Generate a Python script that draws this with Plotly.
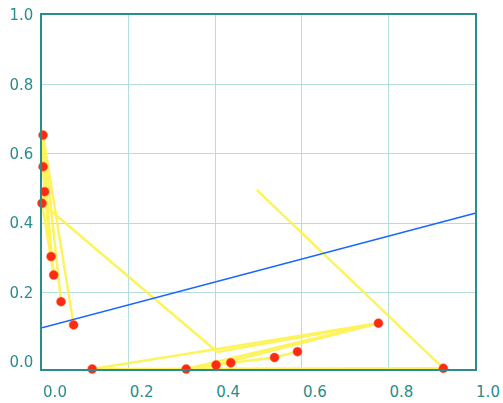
import plotly.graph_objects as go

# Sample points
pts_x = [0.0025, 0.0025, 0.006, 0.0, 0.021, 0.027, 0.044, 0.073,
         0.116, 0.333, 0.402, 0.436, 0.537, 0.590, 0.777, 0.927]
pts_y = [0.654, 0.563, 0.491, 0.4575, 0.304, 0.251, 0.174, 0.107,
         -0.02, -0.02, -0.0085, -0.002, 0.013, 0.030, 0.112, -0.018]

# Extra trail vertices that are not sample points
free_x = [0.405, 0.496]
free_y = [0.029, 0.496]

# Trail segments as (from, to) vertex indices (points first, then free vertices)
trail_edges = [(0, 1), (1, 2), (2, 3), (0, 4), (1, 5), (2, 4), (3, 5),
               (0, 6), (0, 7), (3, 16),
               (8, 15), (8, 14), (9, 14), (10, 14), (16, 14),
               (9, 10), (10, 11), (11, 12), (12, 13),
               (17, 15)]

# Fitted line y = intercept + slope * x
fit_intercept = 0.099
fit_slope = 0.33
fit_x = [0.0, 1.0]

tick_vals = [0.0, 0.2, 0.4, 0.6, 0.8, 1.0]

vx = pts_x + free_x
vy = pts_y + free_y
tx, ty = [], []
for a, b in trail_edges:
    tx += [vx[a], vx[b], None]
    ty += [vy[a], vy[b], None]

fig = go.Figure()
fig.add_trace(go.Scatter(x=tx, y=ty, mode="lines",
                         line=dict(color="#fdf24a", width=2.5),
                         opacity=0.9, hoverinfo="skip", cliponaxis=False))
fig.add_trace(go.Scatter(x=fit_x, y=[fit_intercept + fit_slope * v for v in fit_x],
                         mode="lines", line=dict(color="#1a66ff", width=1.5)))
fig.add_trace(go.Scatter(x=pts_x, y=pts_y, mode="markers",
                         marker=dict(color="#ff2a14", size=9,
                                     line=dict(color="#ff5a20", width=0.5)),
                         cliponaxis=False))

teal = "#2a8c8c"
axis_common = dict(
    tickvals=tick_vals, tickformat=".1f", showgrid=True, automargin=False,
    gridcolor="#b4dede", gridwidth=1, showline=True, linecolor=teal,
    linewidth=1.5, mirror=True, ticks="",
    zeroline=True, zerolinecolor="rgba(0,0,0,0)",
    tickfont=dict(family="DejaVu Sans", size=15, color=teal),
)
fig.update_xaxes(range=[0, 1], ticklabelshift=13, ticklabelstandoff=8, **axis_common)
fig.update_yaxes(range=[-0.02, 1.0], ticklabelstandoff=4, **axis_common)

fig.update_layout(width=503, height=403, showlegend=False,
                  margin=dict(l=42, r=28, t=15, b=34, autoexpand=False),
                  paper_bgcolor="white", plot_bgcolor="white")
fig.write_html("out.html")
